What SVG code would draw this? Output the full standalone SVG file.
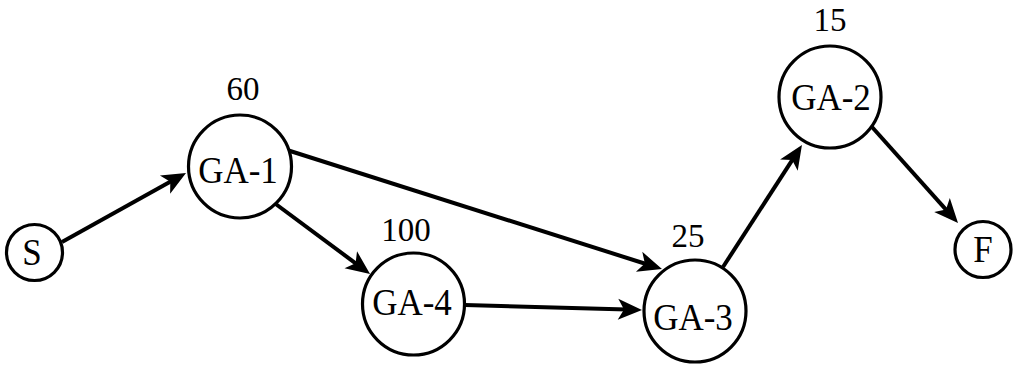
<svg xmlns="http://www.w3.org/2000/svg" width="1013" height="365" viewBox="0 0 1013 365">
  <style>
    .node { fill: #ffffff; stroke: #000000; stroke-width: 3.2; }
    .label { font-family: 'Liberation Serif', 'Times New Roman', Times, serif; font-size: 35px; text-anchor: middle; fill: #000000; }
    .weight { font-family: 'Liberation Serif', 'Times New Roman', Times, serif; font-size: 33px; text-anchor: middle; fill: #000000; }
    .edge { stroke: #000000; stroke-width: 4; fill: none; marker-end: url(#arrow); }
  </style>
  <defs>
    <!-- notched arrowhead; line ends 15px behind the tip -->
    <marker id="arrow" markerUnits="userSpaceOnUse" viewBox="-12 -14 32 28" refX="0" refY="0" markerWidth="32" markerHeight="28" orient="auto" overflow="visible">
      <path d="M15,0 L-9,-10.5 L-3,0 L-9,10.5 Z" fill="#000000"/>
    </marker>
  </defs>

  <rect x="0" y="0" width="1013" height="365" fill="#ffffff"/>

  <g id="connectors">
    <line class="edge" x1="62" y1="242" x2="172.9" y2="180.3"/>
    <line class="edge" x1="287" y1="150" x2="647.7" y2="264.5"/>
    <line class="edge" x1="273" y1="202" x2="358" y2="265.1"/>
    <line class="edge" x1="465" y1="305" x2="627" y2="309.6"/>
    <line class="edge" x1="723" y1="267" x2="793.8" y2="157.6"/>
    <line class="edge" x1="872" y1="127" x2="948" y2="211.8"/>
  </g>

  <g id="node-S">
    <circle class="node" cx="34.5" cy="252.5" r="28"/>
    <text class="label" font-family="Liberation Serif, serif" transform="translate(32,265) scale(1,1.1)">S</text>
  </g>

  <g id="node-GA-1">
    <circle class="node" cx="240" cy="166.5" r="51.5"/>
    <text class="label" font-family="Liberation Serif, serif" transform="translate(238,183) scale(1,1.1)">GA-1</text>
    <text class="weight" font-family="Liberation Serif, serif" x="243" y="100">60</text>
  </g>

  <g id="node-GA-4">
    <circle class="node" cx="413.5" cy="304" r="51"/>
    <text class="label" font-family="Liberation Serif, serif" transform="translate(412,315) scale(1,1.1)">GA-4</text>
    <text class="weight" font-family="Liberation Serif, serif" x="406" y="241">100</text>
  </g>

  <g id="node-GA-3">
    <circle class="node" cx="695" cy="311" r="51"/>
    <text class="label" font-family="Liberation Serif, serif" transform="translate(693,330) scale(1,1.1)">GA-3</text>
    <text class="weight" font-family="Liberation Serif, serif" x="688" y="247">25</text>
  </g>

  <g id="node-GA-2">
    <circle class="node" cx="830" cy="97" r="51"/>
    <text class="label" font-family="Liberation Serif, serif" transform="translate(831,110) scale(1,1.1)">GA-2</text>
    <text class="weight" font-family="Liberation Serif, serif" x="830" y="31">15</text>
  </g>

  <g id="node-F">
    <circle class="node" cx="983" cy="249.5" r="28"/>
    <text class="label" font-family="Liberation Serif, serif" transform="translate(983,262) scale(1,1.1)">F</text>
  </g>
</svg>
